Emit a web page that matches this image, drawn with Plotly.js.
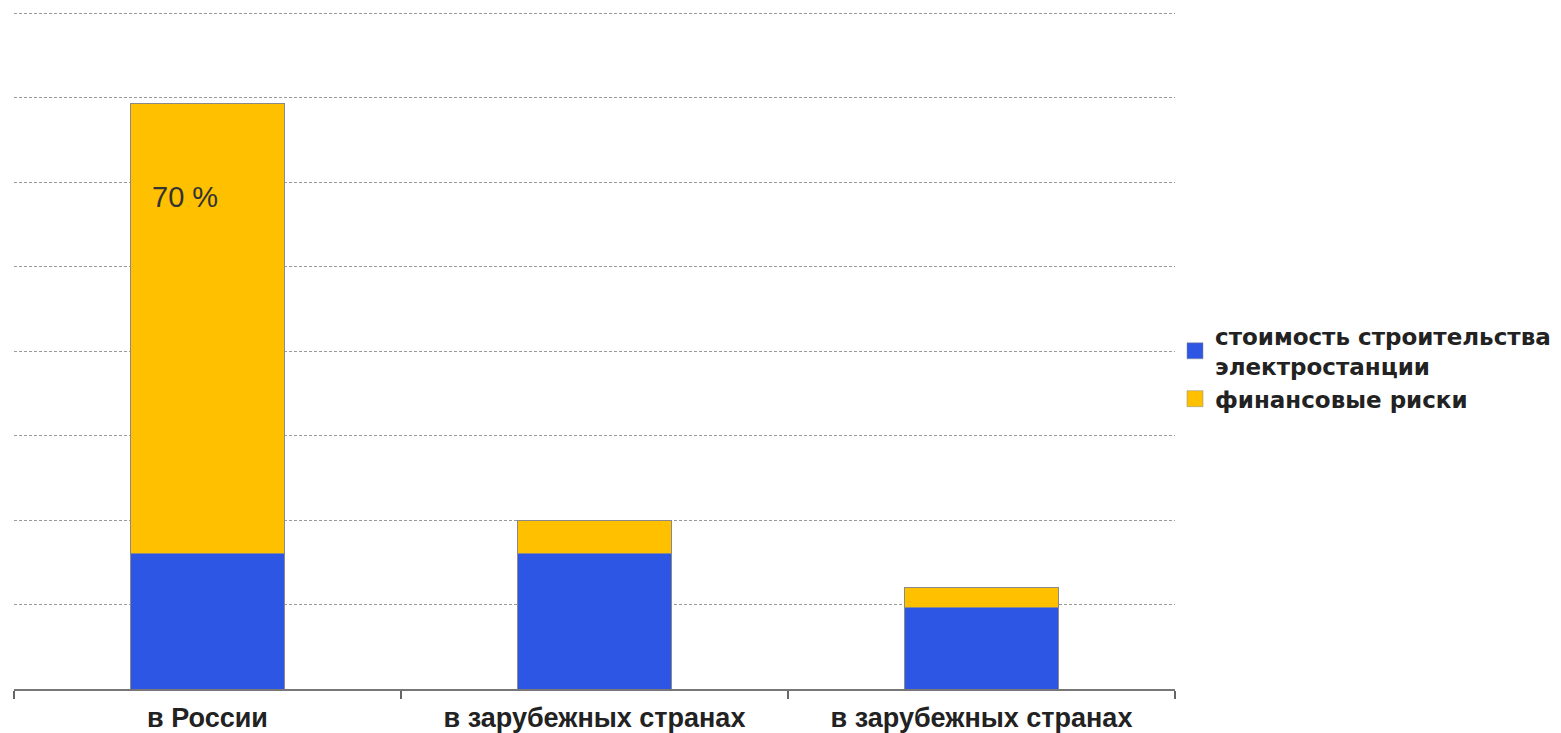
<!DOCTYPE html>
<html>
<head>
<meta charset="utf-8">
<script src="https://cdn.plot.ly/plotly-3.0.1.min.js"></script>
<style>html,body{margin:0;padding:0;background:#fff;}#chart{width:1561px;height:733px;}</style>
</head>
<body>
<div id="chart"></div>
<script>
var categories = ["в России", "в зарубежных странах", "в зарубежных странах"];
var seriesNames = ["стоимость строительства<br>электростанции", "финансовые риски"];
var seriesColors = ["#2D56E4", "#FFC000"];
var constructionCost = [1.6, 1.6, 0.96];
var financialRisks = [5.33, 0.4, 0.24];
var annotationText = "70 %";

var xIdx = categories.map(function(c, i){ return i; });

var traces = [
  {type:'bar', x:xIdx, y:constructionCost, name:seriesNames[0], showlegend:false,
   marker:{color:seriesColors[0], line:{color:'#8a8a8a', width:1}}, hoverinfo:'y'},
  {type:'bar', x:xIdx, y:financialRisks, name:seriesNames[1], showlegend:false,
   marker:{color:seriesColors[1], line:{color:'#8a8a8a', width:1}}, hoverinfo:'y'},
  {type:'scatter', mode:'markers', x:[null], y:[null], name:seriesNames[0],
   marker:{symbol:'square', size:18, color:seriesColors[0], line:{color:'#8a8a8a', width:0.5}}},
  {type:'scatter', mode:'markers', x:[null], y:[null], name:seriesNames[1],
   marker:{symbol:'square', size:18, color:seriesColors[1], line:{color:'#8a8a8a', width:0.5}}}
];

var layout = {
  width:1561, height:733,
  margin:{l:14, r:386, t:12, b:44, autoexpand:false},
  paper_bgcolor:'#fff', plot_bgcolor:'#fff',
  barmode:'stack', bargap:0.6,
  font:{family:'Liberation Sans, Arial, sans-serif', color:'#222'},
  xaxis:{type:'category', tickmode:'array', tickvals:xIdx, ticktext:categories,
    tickson:'boundaries', ticks:'outside', ticklen:8, tickcolor:'#666', tickwidth:1.5,
    showline:true, linecolor:'#777', linewidth:2, showgrid:false,
    ticklabelstandoff:4, automargin:false,
    tickfont:{size:27, color:'#222', family:'Liberation Sans, Arial, sans-serif', weight:'bold'},
    range:[-0.5, 2.5], fixedrange:true},
  yaxis:{range:[0,8.012], tickmode:'array', tickvals:[1,2,3,4,5,6,7,8], showticklabels:false, ticks:'',
    showgrid:true, gridcolor:'#9a9a9a', gridwidth:1, griddash:'3px,2px',
    zeroline:false, showline:false, fixedrange:true, automargin:false},
  showlegend:true,
  legend:{x:1.0, xanchor:'left', y:0.475, yanchor:'middle',
    font:{size:23, color:'#222', family:'DejaVu Sans, sans-serif', weight:'bold'},
    traceorder:'normal', bgcolor:'rgba(0,0,0,0)', itemwidth:30, tracegroupgap:0},
  annotations:[{x:0, y:5.82, xref:'x', yref:'y', text:annotationText, showarrow:false,
    xshift:-23, font:{size:29, color:'#333', family:'Liberation Sans, Arial, sans-serif'}}]
};

Plotly.newPlot('chart', traces, layout, {displayModeBar:false, staticPlot:true});
</script>
</body>
</html>
